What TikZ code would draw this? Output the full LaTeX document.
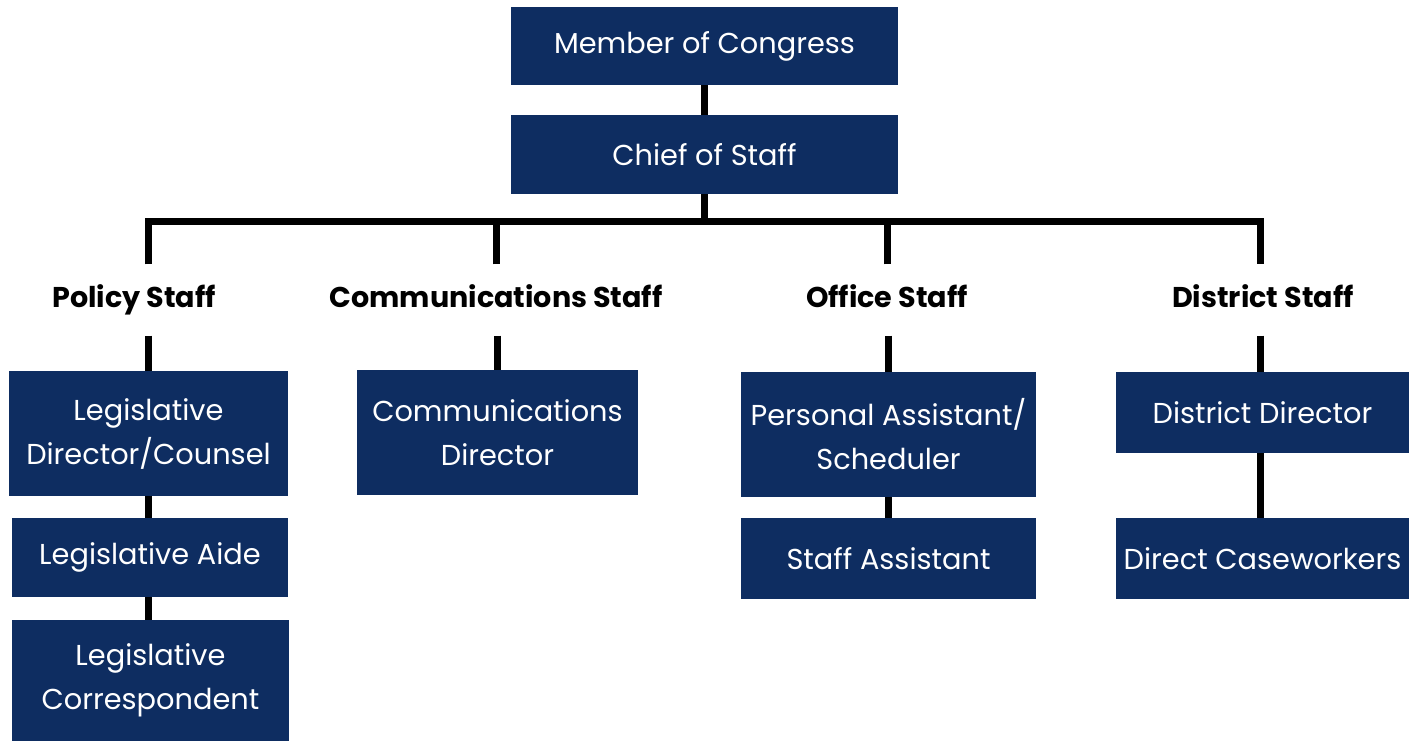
\documentclass[tikz,border=0pt]{standalone}
\usepackage{fontspec}
\setmainfont{Poppins}
\definecolor{navy}{HTML}{0E2D61}
\begin{document}
\begin{tikzpicture}[x=1pt,y=-1pt,
  role/.style={fill=navy,text=white,inner sep=0pt,align=center,
    font=\fontsize{28.8}{44}\selectfont},
  group/.style={text=black,inner sep=0pt,text height=21,text depth=6,
    minimum height=71,font=\fontsize{28.6}{30}\selectfont\bfseries},
  link/.style={line width=7pt,draw=black,line join=miter}]
\useasboundingbox (0,0) rectangle (1420,742);

% top of the chart
\node[role,minimum width=387,minimum height=78] (moc) at (704.5,46) {Member of Congress};
\node[role,minimum width=387,minimum height=79] (cos) at (704.5,154.5) {Chief of Staff};

% group headings
\node[group] (policy) at (134,300) {Policy Staff};
\node[group] (comms) at (496,300) {Communications Staff};
\node[group] (office) at (887,300) {Office Staff};
\node[group] (district) at (1263,300) {District Staff};

% policy staff
\node[role,minimum width=279,minimum height=125] (lddir) at (148.5,433.5) {Legislative\\Director/Counsel};
\node[role,minimum width=276,minimum height=79] (la) at (150,557.5) {Legislative Aide};
\node[role,minimum width=277,minimum height=121] (lc) at (150.5,680.5) {Legislative\\Correspondent};

% communications staff
\node[role,minimum width=281,minimum height=125] (cd) at (497.5,432.5) {Communications\\Director};

% office staff
\node[role,minimum width=295,minimum height=125] (pa) at (888.5,434.5) {Personal Assistant/\\Scheduler};
\node[role,minimum width=295,minimum height=81] (sa) at (888.5,558.5) {Staff Assistant};

% district staff
\node[role,minimum width=293,minimum height=81] (dd) at (1262.5,412.5) {District Director};
\node[role,minimum width=293,minimum height=81] (dc) at (1262.5,558.5) {Direct Caseworkers};

% bus ends
\coordinate (busL) at (148,221.5);
\coordinate (busR) at (1260,221.5);

% connectors
\draw[link] (moc) -- (cos);
\draw[link] (cos.south) -- (cos.south |- busL);
\draw[link] (policy.north -| busL) -- (busL) -- (busR) -- (district.north -| busR);
\draw[link] (comms.north) -- (comms.north |- busL);
\draw[link] (office.north) -- (office.north |- busL);

\draw[link] (policy.south -| busL) -- (lddir.north -| busL);
\draw[link] (lddir.south -| busL) -- (la.north -| busL);
\draw[link] (la.south -| busL) -- (lc.north -| busL);

\draw[link] (comms.south -| cd.north) -- (cd.north);

\draw[link] (office.south -| pa.north) -- (pa.north);
\draw[link] (pa) -- (sa);

\draw[link] (district.south -| busR) -- (dd.north -| busR);
\draw[link] (dd.south -| busR) -- (dc.north -| busR);
\end{tikzpicture}
\end{document}
